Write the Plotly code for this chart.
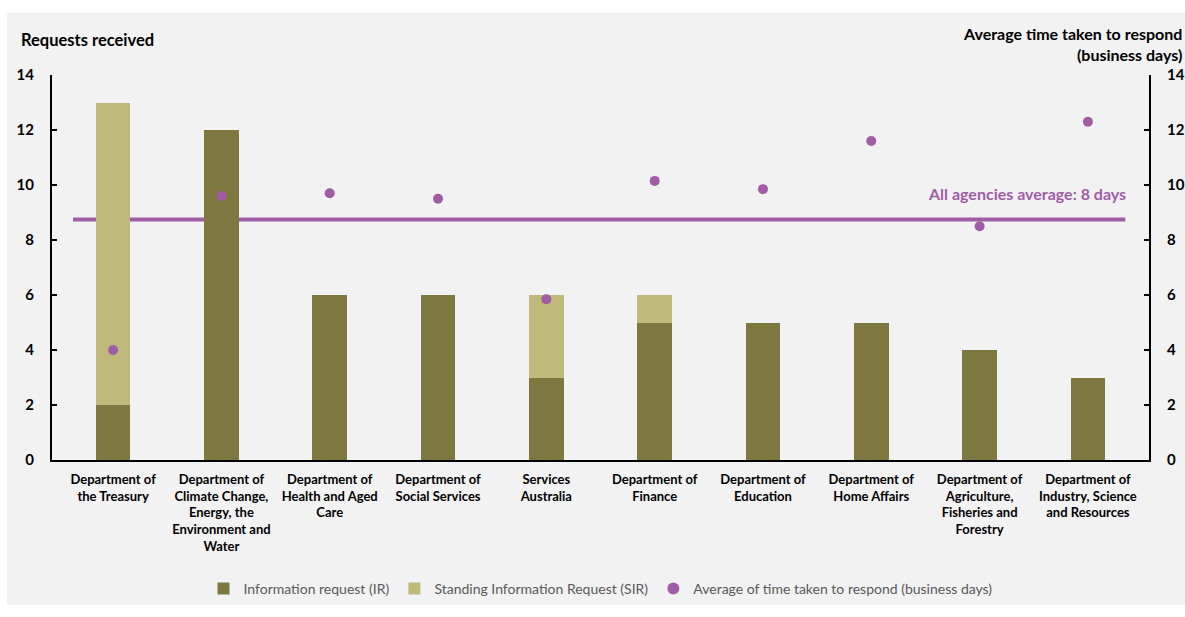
import plotly.graph_objects as go

categories = [
    "Department of<br>the Treasury",
    "Department of<br>Climate Change,<br>Energy, the<br>Environment and<br>Water",
    "Department of<br>Health and Aged<br>Care",
    "Department of<br>Social Services",
    "Services<br>Australia",
    "Department of<br>Finance",
    "Department of<br>Education",
    "Department of<br>Home Affairs",
    "Department of<br>Agriculture,<br>Fisheries and<br>Forestry",
    "Department of<br>Industry, Science<br>and Resources",
]
ir_values = [2, 12, 6, 6, 3, 5, 5, 5, 4, 3]
sir_values = [11, 0, 0, 0, 3, 1, 0, 0, 0, 0]
avg_days = [4.0, 9.6, 9.7, 9.5, 5.85, 10.15, 9.85, 11.6, 8.5, 12.3]
all_avg = 8.75
y_ticks = [0, 2, 4, 6, 8, 10, 12, 14]

FONT = "Lato"
DARK = "#7c783f"
LIGHT = "#bfb97c"
PURPLE = "#a05da6"

fig = go.Figure()
fig.add_trace(go.Bar(x=categories, y=ir_values, name="Information request (IR)",
                     marker=dict(color=DARK, line=dict(width=0))))
fig.add_trace(go.Bar(x=categories, y=sir_values, name="Standing Information Request (SIR)",
                     marker=dict(color=LIGHT, line=dict(width=0))))
fig.add_trace(go.Scatter(x=categories, y=avg_days, mode="markers", yaxis="y2",
                         name="Average of time taken to respond (business days)",
                         marker=dict(color=PURPLE, size=10, symbol="circle")))

W, H = 1185, 617
L, R, T, B = 52, 1149, 75, 469
pw, ph = R - L, B - T

def px(x):
    return (x - L) / pw

def py(y):
    return (B - y) / ph

fig.add_shape(type="rect", xref="paper", yref="paper",
              x0=px(7), x1=px(1185), y0=py(617), y1=py(11),
              fillcolor="#f2f2f2", line=dict(width=0), layer="below")

fig.add_shape(type="line", xref="x", yref="y2", x0=-0.37, x1=9.345,
              y0=all_avg, y1=all_avg, line=dict(color=PURPLE, width=4), layer="below")

fig.add_annotation(text="All agencies average: 8 days", xref="paper", yref="y2",
                   x=px(1128), y=all_avg, yshift=26, xanchor="right", yanchor="middle",
                   showarrow=False, font=dict(family=FONT, size=16, color=PURPLE, weight="bold"))

fig.add_annotation(text="Requests received", xref="paper", yref="paper",
                   x=px(19), y=py(39), xanchor="left", yanchor="middle", showarrow=False,
                   font=dict(family=FONT, size=16.5, color="#000000", weight="bold"))
fig.add_annotation(text="Average time taken to respond<br>(business days)", xref="paper", yref="paper",
                   x=px(1184), y=py(43), xanchor="right", yanchor="middle", align="right",
                   showarrow=False,
                   font=dict(family=FONT, size=16, color="#000000", weight="bold"))

axis_common = dict(range=[0, 14], tickvals=y_ticks, showgrid=False, zeroline=False,
                   showline=True, linecolor="#000000", linewidth=2, automargin=False,
                   ticks="inside", ticklen=5, tickwidth=2, tickcolor="#000000",
                   tickfont=dict(family=FONT, size=15, color="#000000", weight="bold"))

fig.update_layout(
    width=W, height=H, autosize=False,
    margin=dict(l=L, r=W - R, t=T, b=H - B, pad=0),
    paper_bgcolor="#ffffff",
    plot_bgcolor="rgba(0,0,0,0)",
    barmode="stack",
    bargap=0.68,
    font=dict(family=FONT),
    xaxis=dict(showline=True, linecolor="#000000", linewidth=2, showgrid=False, automargin=False,
               ticks="", tickfont=dict(family=FONT, size=13, color="#000000", weight="bold"),
               ticklabelstandoff=6),
    yaxis=dict(**axis_common, ticklabelstandoff=13),
    yaxis2=dict(**axis_common, overlaying="y", side="right", ticklabelstandoff=13),
    legend=dict(orientation="h", x=0.5, xanchor="center", y=py(601), yanchor="middle",
                font=dict(family=FONT, size=14, color="#595959"), bgcolor="rgba(0,0,0,0)",
                itemsizing="constant", traceorder="normal"),
    showlegend=True,
)

fig.write_html("out.html",
               config={"responsive": False, "displayModeBar": False},
               post_script="document.body.style.margin='0';")
